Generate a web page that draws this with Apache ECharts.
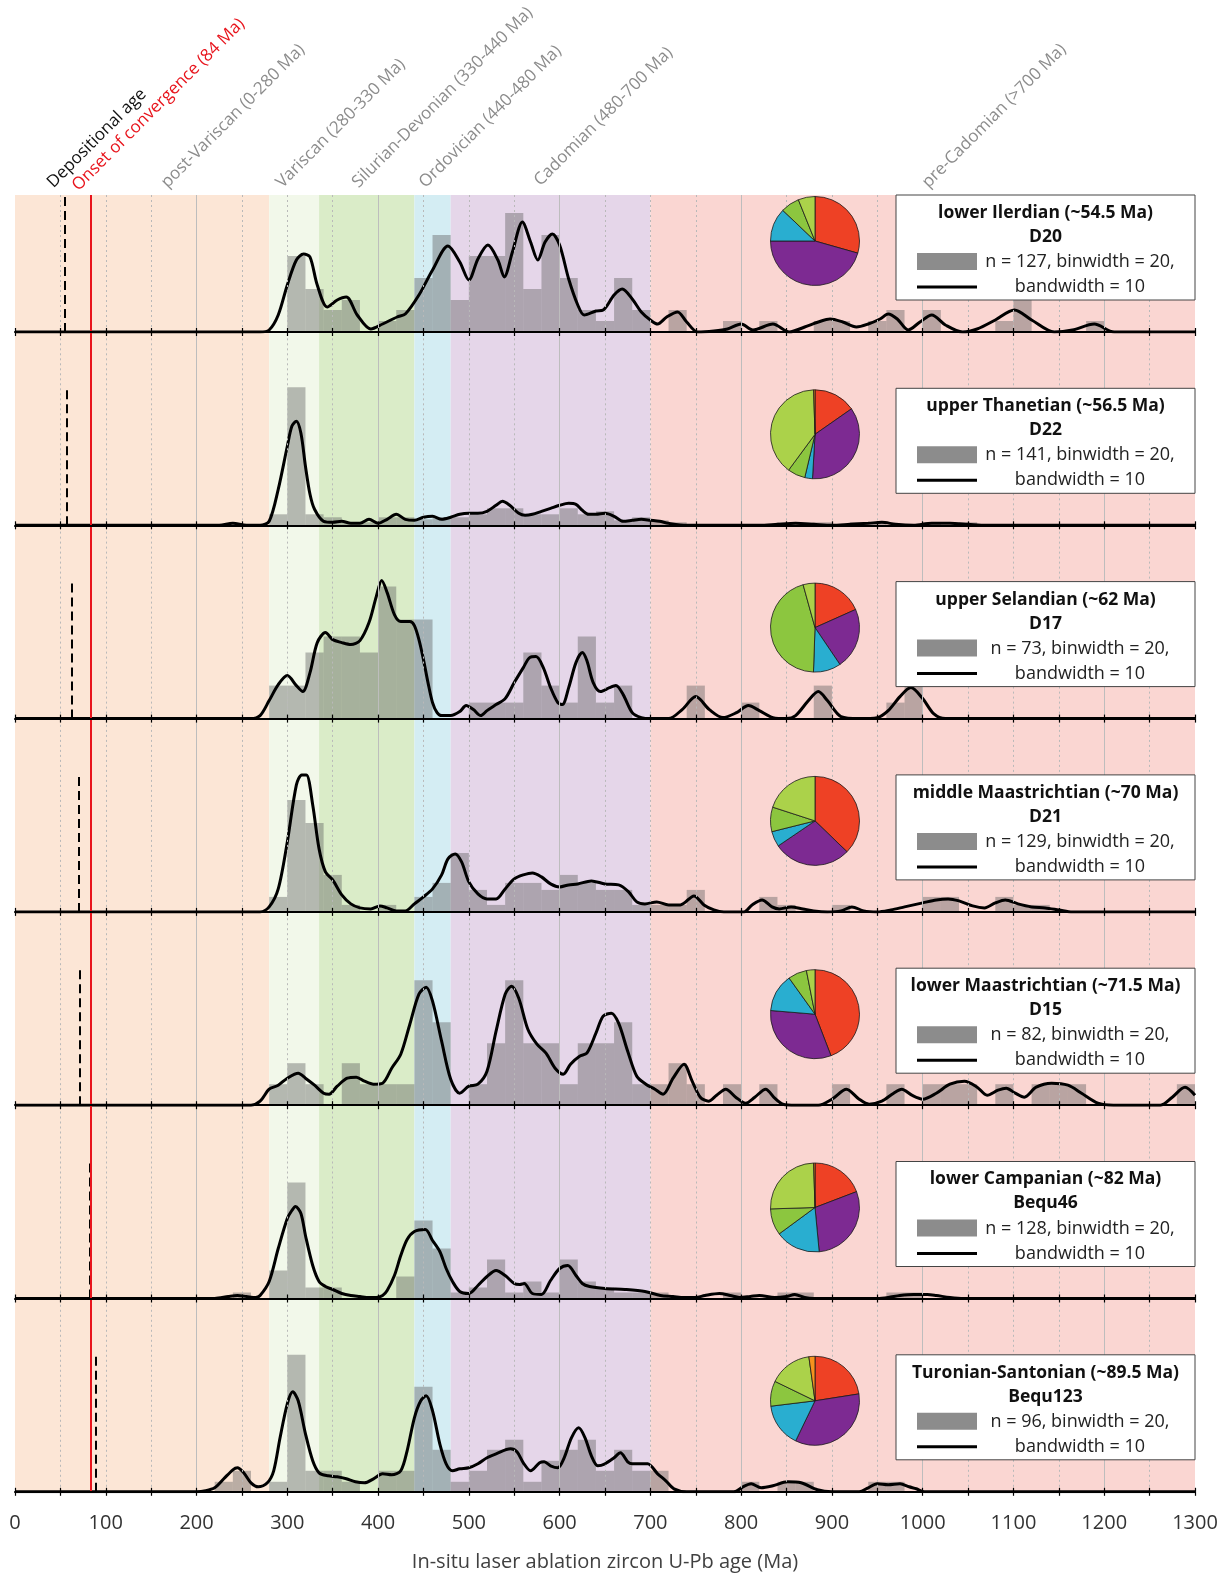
<!DOCTYPE html>
<html><head><meta charset="utf-8">
<script src="https://cdn.jsdelivr.net/npm/echarts@6/dist/echarts.min.js"></script>
<style>html,body{margin:0;padding:0;background:#fff}#c{width:1232px;height:1574px}</style>
</head><body><div id="c"></div>
<script>
// ---------------- DATA ----------------
const sampleNames = ['D20','D22','D17','D21','D15','Bequ46','Bequ123'];
const stageTitles = ['lower Ilerdian (~54.5 Ma)','upper Thanetian (~56.5 Ma)','upper Selandian (~62 Ma)','middle Maastrichtian (~70 Ma)','lower Maastrichtian (~71.5 Ma)','lower Campanian (~82 Ma)','Turonian-Santonian (~89.5 Ma)'];
const nCounts = [127,141,73,129,82,128,96];
const depositionalAges = [54.5,56.5,62,70,71.5,82,89.5];
const convergenceAge = 84;
const BINWIDTH = 20, BANDWIDTH = 10;
const xTicks = [0,100,200,300,400,500,600,700,800,900,1000,1100,1200,1300];

const periodNames = ['post-Variscan','Variscan','Silurian-Devonian','Ordovician','Cadomian','pre-Cadomian'];
const periodStart = [0,280,335,440,480,700];
const periodEnd   = [280,335,440,480,700,1300];
const periodLabels = ['post-Variscan (0-280 Ma)','Variscan (280-330 Ma)','Silurian-Devonian (330-440 Ma)','Ordovician (440-480 Ma)','Cadomian (480-700 Ma)','pre-Cadomian (>700 Ma)'];

// histogram bins: [bin start (Ma), relative frequency]
const histD20 = [[300,76],[320,43],[340,22],[360,32],[400,11],[420,22],[440,54],[460,97],[480,32],[500,76],[520,76],[540,119],[560,43],[580,97],[600,54],[620,22],[640,11],[660,54],[680,22],[720,22],[780,11],[820,11],[880,11],[900,11],[940,11],[960,22],[1000,22],[1080,11],[1100,32],[1180,11]];
const histD22 = [[280,11],[300,138],[320,11],[340,8],[360,3],[380,3],[400,8],[420,8],[440,6],[460,8],[480,8],[500,11],[520,17],[540,17],[560,11],[580,11],[600,17],[620,11],[640,14],[660,5],[680,8],[700,5],[720,3],[840,3],[860,3],[880,3],[920,3],[940,3],[1000,3],[1040,3]];
const histD17 = [[280,33],[300,33],[320,66],[340,82],[360,82],[380,66],[400,132],[420,99],[440,99],[500,16],[520,16],[540,16],[560,66],[580,33],[600,16],[620,82],[640,16],[660,33],[740,33],[800,16],[880,33],[960,16],[980,33]];
const histD21 = [[280,15],[300,112],[320,89],[340,37],[360,7],[400,7],[440,15],[460,29],[480,59],[500,22],[520,7],[540,29],[560,29],[580,22],[600,37],[620,29],[640,22],[660,22],[680,7],[700,7],[720,7],[740,22],[820,15],[840,7],[900,7],[1000,15],[1020,15],[1080,15],[1100,7],[1120,7]];
const histD15 = [[280,21],[300,42],[320,21],[360,42],[380,21],[400,21],[420,21],[440,125],[460,83],[500,21],[520,62],[540,125],[560,62],[580,62],[600,21],[620,62],[640,62],[660,83],[680,21],[700,21],[720,42],[740,21],[780,21],[820,21],[900,21],[960,21],[1000,21],[1020,21],[1040,21],[1080,21],[1120,21],[1140,21],[1160,21],[1280,21]];
const histBequ46 = [[240,6],[280,28],[300,116],[320,11],[340,11],[420,22],[440,78],[460,50],[480,6],[500,11],[520,39],[540,6],[560,17],[580,6],[600,39],[620,17],[640,11],[660,6],[680,6],[700,6],[780,6],[840,6],[860,6],[960,6],[980,6]];
const histBequ123 = [[220,10],[240,21],[280,10],[300,137],[320,21],[340,21],[360,10],[400,21],[420,21],[440,105],[460,42],[480,10],[500,21],[520,42],[540,52],[560,10],[580,31],[600,42],[620,52],[640,21],[660,42],[680,21],[700,21],[800,10],[840,10],[860,10],[940,10],[960,10]];

// kernel density estimates: [age (Ma), relative density]
const kdeD20 = [[0,0],[270,0],[280,2],[290,17],[300,47],[310,72],[318,78],[325,75],[333,47],[344,25],[355,32],[365,35],[377,17],[392,3],[405,8],[421,15],[430,18],[445,37],[460,62],[477,86],[490,70],[500,52],[510,73],[521,87],[532,72],[539,55],[548,80],[559,110],[568,90],[576,72],[584,90],[592,98],[600,87],[610,53],[620,27],[627,17],[640,21],[648,22],[660,37],[669,43],[680,33],[690,20],[700,12],[708,8],[718,15],[730,20],[740,10],[752,0],[770,1],[785,3],[800,8],[813,2],[835,8],[853,0],[870,5],[885,10],[898,13],[912,10],[927,5],[940,8],[953,13],[962,18],[972,13],[984,2],[997,10],[1010,17],[1025,7],[1044,0],[1060,3],[1080,12],[1101,22],[1120,12],[1145,0],[1165,2],[1189,8],[1211,0],[1300,0]];
const kdeD22 = [[0,0],[225,0],[240,2],[255,0],[270,0],[280,4],[290,36],[300,79],[305,99],[310,104],[315,92],[320,59],[325,31],[330,16],[340,4],[350,3],[360,4],[370,2],[380,2],[390,6],[400,2],[410,6],[420,11],[430,6],[440,5],[450,8],[460,9],[470,6],[480,8],[490,11],[500,12],[510,12],[520,14],[530,20],[537,24],[545,20],[555,12],[562,10],[570,11],[580,14],[590,17],[600,20],[610,22],[618,21],[625,15],[632,11],[640,11],[650,12],[660,9],[670,4],[680,5],[690,6],[700,5],[710,4],[720,2],[740,0],[820,0],[840,1],[860,2],[880,1],[900,0],[920,1],[940,2],[955,3],[970,1],[990,0],[1010,2],[1030,2],[1050,1],[1070,0],[1300,0]];
const kdeD17 = [[0,0],[260,0],[270,3],[280,18],[290,34],[300,43],[310,33],[317,27],[325,46],[333,76],[342,86],[350,79],[360,76],[370,74],[380,78],[390,96],[398,122],[404,138],[410,126],[418,104],[425,97],[435,97],[440,93],[445,79],[450,59],[455,36],[460,16],[465,6],[470,3],[480,3],[490,7],[497,13],[505,9],[513,3],[520,8],[530,14],[540,20],[550,36],[560,51],[567,61],[574,62],[582,51],[590,31],[598,16],[603,14],[610,31],[618,56],[625,66],[630,58],[637,36],[645,27],[655,31],[662,33],[670,24],[680,6],[690,1],[700,0],[720,0],[735,9],[750,22],[765,9],[780,1],[795,6],[808,13],[820,8],[835,1],[850,0],[860,3],[875,19],[885,27],[895,18],[910,2],[930,0],[950,1],[962,8],[975,22],[987,31],[1000,20],[1012,5],[1025,0],[1300,0]];
const kdeD21 = [[0,0],[270,0],[280,5],[290,23],[300,70],[310,127],[316,137],[321,137],[328,107],[335,63],[342,40],[350,32],[360,17],[370,8],[380,4],[392,3],[402,6],[410,4],[420,1],[430,1],[440,8],[450,15],[460,23],[470,37],[477,53],[485,58],[492,50],[500,30],[510,18],[520,13],[530,13],[540,23],[550,33],[560,37],[570,39],[580,35],[590,28],[600,25],[610,27],[620,28],[635,31],[650,28],[665,27],[676,20],[685,10],[694,8],[707,10],[720,7],[733,7],[748,16],[759,7],[770,2],[781,0],[803,0],[812,7],[823,12],[834,5],[842,3],[855,5],[868,3],[880,1],[895,0],[910,1],[922,5],[935,1],[950,0],[965,2],[980,5],[1000,9],[1015,12],[1028,13],[1040,11],[1055,6],[1068,4],[1080,9],[1091,12],[1105,8],[1120,5],[1135,4],[1150,2],[1165,0],[1300,0]];
const kdeD15 = [[0,0],[260,0],[270,4],[280,16],[290,20],[300,27],[312,32],[320,27],[330,20],[340,12],[346,11],[355,19],[366,27],[376,28],[385,24],[395,21],[405,22],[415,37],[425,51],[435,81],[445,111],[453,118],[460,104],[470,64],[480,26],[490,12],[500,19],[510,21],[520,34],[530,74],[540,111],[547,119],[555,107],[565,76],[575,61],[585,52],[595,37],[604,31],[612,41],[622,49],[630,52],[640,72],[648,89],[657,92],[665,82],[675,54],[685,29],[695,21],[705,16],[714,11],[725,27],[737,41],[746,24],[755,8],[764,4],[773,10],[783,16],[794,8],[805,2],[815,8],[827,16],[837,7],[846,1],[860,0],[885,0],[900,6],[916,16],[930,6],[941,1],[955,4],[968,12],[977,16],[988,10],[1000,6],[1015,12],[1030,21],[1046,24],[1060,18],[1071,10],[1083,15],[1092,17],[1102,12],[1112,8],[1125,18],[1142,22],[1160,20],[1175,12],[1193,2],[1210,0],[1262,0],[1275,8],[1289,18],[1300,10]];
const kdeBequ46 = [[0,0],[220,0],[235,2],[245,3],[255,2],[265,1],[270,3],[280,17],[290,50],[300,80],[305,88],[309,92],[315,85],[320,63],[328,33],[335,17],[342,12],[350,9],[360,5],[370,3],[380,2],[390,1],[398,1],[405,3],[410,8],[418,23],[425,43],[432,59],[440,67],[452,69],[460,58],[468,47],[475,30],[482,17],[490,7],[500,5],[510,13],[520,22],[530,28],[540,23],[550,15],[556,14],[561,15],[570,5],[580,4],[590,18],[600,30],[609,33],[618,23],[625,15],[633,12],[650,10],[672,9],[694,7],[711,3],[725,2],[737,1],[750,1],[760,3],[776,5],[788,3],[798,1],[810,2],[820,3],[837,1],[850,2],[859,4],[870,1],[880,0],[950,0],[962,1],[975,3],[990,4],[1005,4],[1015,3],[1030,1],[1045,0],[1300,0]];
const kdeBequ123 = [[0,0],[200,0],[210,1],[220,4],[230,13],[240,22],[245,24],[252,19],[260,9],[268,5],[278,9],[285,21],[292,54],[300,88],[306,100],[312,91],[320,58],[328,31],[335,19],[345,16],[355,15],[365,13],[375,10],[385,9],[395,13],[405,18],[415,17],[425,21],[432,41],[440,74],[447,91],[453,96],[460,81],[468,48],[475,28],[482,21],[490,23],[500,24],[510,28],[520,34],[530,38],[546,43],[553,40],[560,29],[568,21],[578,29],[583,30],[590,26],[598,24],[605,34],[613,54],[621,64],[628,54],[635,36],[642,26],[650,28],[660,34],[667,39],[675,30],[680,28],[690,28],[697,28],[708,18],[717,11],[726,3],[740,0],[792,0],[802,5],[811,8],[822,4],[835,6],[851,10],[866,9],[884,2],[900,0],[930,0],[940,4],[950,8],[962,7],[975,8],[985,5],[993,3],[1002,0],[1300,0]];

// provenance shares (pre-Cadomian, Cadomian, Ordovician, Silurian-Devonian, Variscan, post-Variscan)
const pieD20     = [29.4,45.6,12.1,6.8,6.1,0];
const pieD22     = [15.3,35.6,2.8,6.4,39.4,0.5];
const pieD17     = [18.3,22.2,10.0,45.1,4.3,0];
const pieD21     = [37.2,28.3,5.6,8.9,20.0,0];
const pieD15     = [44.2,32.2,13.8,6.8,3.1,0];
const pieBequ46  = [19.2,29.3,16.4,9.6,25.0,0.5];
const pieBequ123 = [22.5,34.6,15.9,9.1,15.6,2.2];
const pieOrder = ['pre-Cadomian','Cadomian','Ordovician','Silurian-Devonian','Variscan','post-Variscan'];

const hists = [histD20,histD22,histD17,histD21,histD15,histBequ46,histBequ123];
const kdes = [kdeD20,kdeD22,kdeD17,kdeD21,kdeD15,kdeBequ46,kdeBequ123];
const pies = [pieD20,pieD22,pieD17,pieD21,pieD15,pieBequ46,pieBequ123];

// ---------------- STYLE / LAYOUT ----------------
const FONT = "'Open Sans','Liberation Sans',sans-serif";
const bandColors = ['#fce6d6','#f2f8ea','#daecc8','#d4edf3','#e5d6e9','#fad6d2'];
const pieColors = ['#ee4125','#7d2a92','#29aed0','#8cc63f','#abd24a','#f6921e'];
const labelGray = '#8c8c8c';
const PLOT_LEFT = 15, PLOT_W = 1180;
const FIRST_TOP = 195, FIRST_BASE = 332, PANEL_H = 193.3;
const DEP_LINE_H = 138;
const BOX_X = 896, BOX_W = 299, BOX_H = 105, BOX_CX = BOX_X + BOX_W/2;
const PIE_X = 815;
const topLabelLayout = [
  {text:'Depositional age', color:'#111', size:17, x:56, y:191},
  {text:'Onset of convergence (84 Ma)', color:'#e8141c', size:17, x:81, y:194},
  {text:periodLabels[0], color:labelGray, size:17, x:170, y:191},
  {text:periodLabels[1], color:labelGray, size:17, x:285, y:191},
  {text:periodLabels[2], color:labelGray, size:17, x:361, y:191},
  {text:periodLabels[3], color:labelGray, size:17, x:428, y:191},
  {text:periodLabels[4], color:labelGray, size:17, x:543, y:189},
  {text:periodLabels[5], color:labelGray, size:17, x:931, y:191}
];

const grids=[], xAxes=[], yAxes=[], series=[], graphic=[];
const N = sampleNames.length;
const gridLineVals = [];
for (let v = 50; v < 1300; v += 50) gridLineVals.push(v);
const tickVals = [];
for (let v = 0; v <= 1300; v += 50) tickVals.push(v);

for (let i=0;i<N;i++){
  const base = FIRST_BASE + i*PANEL_H;
  const top = i===0 ? FIRST_TOP : base - PANEL_H;
  const h = base - top;
  const last = i===N-1;
  grids.push({left:PLOT_LEFT, width:PLOT_W, top:top, height:h});
  xAxes.push({type:'value', gridIndex:i, min:0, max:1300, interval:50, z:10,
    axisLine:{show:true, onZero:false, lineStyle:{color:'#000', width:2}},
    axisTick:{show:true, length:4, lineStyle:{color:'#000', width:1.2}},
    axisLabel:{show:last, formatter:v => xTicks.indexOf(v)>=0 ? String(v) : '', fontSize:20, color:'#333', margin:21, fontFamily:FONT},
    splitLine:{show:false},
    name: last ? 'In-situ laser ablation zircon U-Pb age (Ma)' : '',
    nameLocation:'middle', nameGap:60,
    nameTextStyle:{fontSize:20, color:'#404040', fontFamily:FONT}
  });
  yAxes.push({type:'value', gridIndex:i, min:0, max:h, show:false});

  // period bands
  series.push({type:'line', xAxisIndex:i, yAxisIndex:i, data:[], z:1, silent:true,
    markArea:{silent:true, data: periodNames.map((p,k)=>[{xAxis:periodStart[k], itemStyle:{color:bandColors[k]}},{xAxis:periodEnd[k]}])}
  });
  // grid lines
  series.push({type:'line', xAxisIndex:i, yAxisIndex:i, data:[], z:2, silent:true,
    markLine:{silent:true, symbol:'none', label:{show:false}, animation:false,
      data: gridLineVals.map(v=>({xAxis:v, lineStyle: v%200===0 ? {color:'#bdbdbd', width:1, type:'solid'} : {color:'#b9b9b9', width:1, type:[2,3]}}))}
  });
  // histogram
  series.push({type:'custom', xAxisIndex:i, yAxisIndex:i, z:3, silent:true,
    data: hists[i], encode:{x:0, y:1},
    renderItem:(params, api)=>{
      const x0 = api.value(0), hv = api.value(1);
      const p0 = api.coord([x0, hv]), p1 = api.coord([x0+BINWIDTH, 0]);
      return {type:'rect', shape:{x:p0[0], y:p0[1], width:p1[0]-p0[0], height:p1[1]-p0[1]}, style:{fill:'rgba(95,95,95,0.42)'}};
    }
  });
  // KDE
  series.push({type:'line', xAxisIndex:i, yAxisIndex:i, data:kdes[i], z:4, silent:true,
    smooth:0.3, symbol:'none', lineStyle:{color:'#000', width:3}});
  // depositional age & convergence lines, inner tick marks
  const markData = tickVals.map(v=>[{coord:[v,0], lineStyle:{color:'#000', width:1.2, type:'solid'}},{coord:[v,4]}]);
  markData.push([{coord:[depositionalAges[i],0], lineStyle:{color:'#000', width:2, type:[9,5]}},{coord:[depositionalAges[i],Math.min(DEP_LINE_H,h)]}]);
  markData.push({xAxis:convergenceAge, lineStyle:{color:'#e8141c', width:2, type:'solid'}});
  series.push({type:'line', xAxisIndex:i, yAxisIndex:i, data:[], z:5, silent:true,
    markLine:{silent:true, symbol:'none', label:{show:false}, animation:false, data:markData}
  });
  // pie
  series.push({type:'pie', center:[PIE_X, base-91], radius:44.5, startAngle:90, clockwise:true, z:20, silent:true,
    label:{show:false}, labelLine:{show:false}, animation:false,
    itemStyle:{borderColor:'#1a1a1a', borderWidth:0.8},
    data: pies[i].map((v,k)=>({name:pieOrder[k], value:v, itemStyle:{color:pieColors[k]}})).filter(d=>d.value>0)
  });

  // legend box
  const T = base - 137;
  graphic.push({type:'rect', z:100, shape:{x:BOX_X, y:T, width:BOX_W, height:BOX_H}, style:{fill:'#fff', stroke:'#444', lineWidth:1}});
  graphic.push({type:'text', z:101, x:BOX_CX, y:T+18, style:{text:stageTitles[i], fill:'#111', font:`bold 17.5px ${FONT}`, textAlign:'center', textVerticalAlign:'middle'}});
  graphic.push({type:'text', z:101, x:BOX_CX, y:T+42, style:{text:sampleNames[i], fill:'#111', font:`bold 17.5px ${FONT}`, textAlign:'center', textVerticalAlign:'middle'}});
  graphic.push({type:'rect', z:101, shape:{x:BOX_X+21, y:T+58, width:60, height:17}, style:{fill:'#8c8c8c'}});
  graphic.push({type:'text', z:101, x:BOX_X+184, y:T+67, style:{text:`n = ${nCounts[i]}, binwidth = ${BINWIDTH},`, fill:'#222', font:`18px ${FONT}`, textAlign:'center', textVerticalAlign:'middle'}});
  graphic.push({type:'line', z:101, shape:{x1:BOX_X+21, y1:T+92, x2:BOX_X+81, y2:T+92}, style:{stroke:'#000', lineWidth:3}});
  graphic.push({type:'text', z:101, x:BOX_X+184, y:T+92, style:{text:`bandwidth = ${BANDWIDTH}`, fill:'#222', font:`18px ${FONT}`, textAlign:'center', textVerticalAlign:'middle'}});
}

topLabelLayout.forEach(l=>{
  graphic.push({type:'text', z:50, x:l.x, y:l.y, rotation:Math.PI/4,
    style:{text:l.text, fill:l.color, font:`${l.size}px ${FONT}`, textAlign:'left', textVerticalAlign:'bottom'}});
});

const chart = echarts.init(document.getElementById('c'), null, {renderer:'canvas'});
chart.setOption({animation:false, backgroundColor:'#fff', grid:grids, xAxis:xAxes, yAxis:yAxes, series:series, graphic:graphic});
</script></body></html>
